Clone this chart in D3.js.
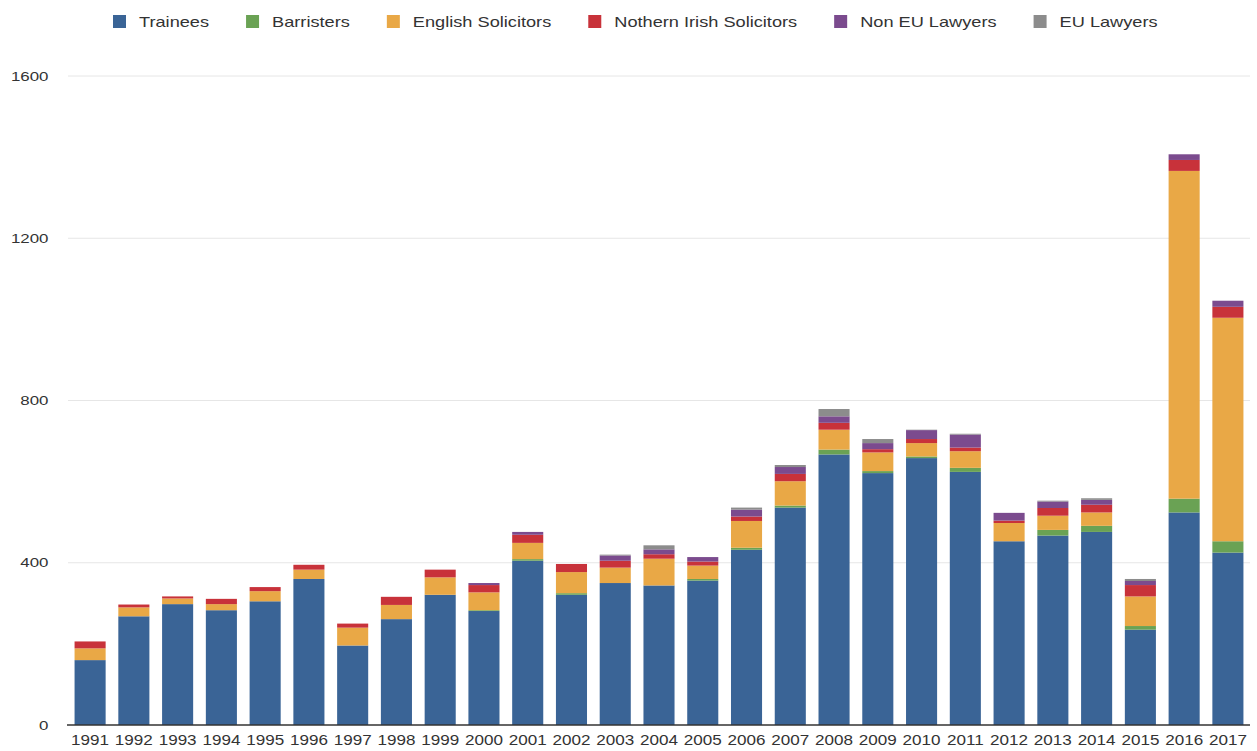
<!DOCTYPE html>
<html>
<head>
<meta charset="utf-8">
<script src="https://cdn.jsdelivr.net/npm/d3@7"></script>
<style>
  body { margin: 0; background: #fff; }
  text { font-family: "Liberation Sans", Arial, sans-serif; fill: #333; }
</style>
</head>
<body>
<div id="chart"></div>
<script>
const years = ['1991','1992','1993','1994','1995','1996','1997','1998','1999','2000','2001','2002','2003','2004','2005','2006','2007','2008','2009','2010','2011','2012','2013','2014','2015','2016','2017'];

const trainees = [160,268,298,283,305,360,196,261,321,281,405,321,350,344,356,432,536,667,621,658,624,453,467,476,235,524,425];
const barristers = [0,0,0,0,0,0,0,0,0,2,4,4,0,0,4,5,5,12,5,4,10,0,14,15,9,34,28];
const englishSolicitors = [29,22,14,15,25,23,44,35,43,44,40,52,38,66,33,66,60,49,46,33,41,45,35,33,73,808,551];
const nIrishSolicitors = [17,7,5,13,10,12,10,20,19,18,20,20,17,11,10,11,18,17,8,10,9,6,19,19,28,27,27];
const nonEuLawyers = [0,0,0,0,0,0,0,0,0,5,7,0,13,12,11,17,17,16,15,22,32,19,16,12,10,14,15];
const euLawyers = [0,0,0,0,0,0,0,0,0,0,0,0,2,10,0,5,5,18,10,1,2,0,2,4,5,0,0];

const seriesNames = ['Trainees', 'Barristers', 'English Solicitors', 'Nothern Irish Solicitors', 'Non EU Lawyers', 'EU Lawyers'];
const seriesValues = [trainees, barristers, englishSolicitors, nIrishSolicitors, nonEuLawyers, euLawyers];
const colors = ['#3a6496', '#6aa254', '#e9a846', '#c8323a', '#7b4b8e', '#8c8c8c'];
const yTicks = [0, 400, 800, 1200, 1600];

const w = 1257;
const h = 751;
const margin = { top: 76, right: 7, bottom: 26, left: 68 };

// table for d3.stack
const table = years.map((y, i) => {
  const row = { year: y };
  seriesNames.forEach((s, j) => { row[s] = seriesValues[j][i]; });
  return row;
});

const stacked = d3.stack().keys(seriesNames)(table);

const x = d3.scaleBand()
  .domain(years)
  .range([margin.left, w - margin.right])
  .paddingInner(0.29)
  .paddingOuter(0.15);

const y = d3.scaleLinear()
  .domain([0, 1600])
  .range([h - margin.bottom, margin.top]);

const color = d3.scaleOrdinal().domain(seriesNames).range(colors);

const svg = d3.select('#chart')
  .append('svg')
  .attr('width', w)
  .attr('height', h);

// grid
svg.append('g')
  .selectAll('line')
  .data(yTicks.slice(1))
  .enter()
  .append('line')
  .attr('x1', margin.left)
  .attr('x2', w - margin.right)
  .attr('y1', d => y(d))
  .attr('y2', d => y(d))
  .attr('stroke', '#e6e6e6')
  .attr('stroke-width', 1);

// y axis labels (text is a bit stretched sideways in the original)
const yAxis = svg.append('g')
  .attr('transform', 'translate(' + margin.left + ',0)')
  .call(d3.axisLeft(y).tickValues(yTicks).tickFormat(d3.format('d')).tickSize(0).tickPadding(15));
yAxis.select('.domain').remove();
yAxis.selectAll('text')
  .attr('font-size', 13)
  .attr('font-family', '"Liberation Sans", Arial, sans-serif')
  .attr('fill', '#333')
  .attr('transform', 'scale(1.3,1)');

// bars
const layer = svg.append('g')
  .selectAll('g')
  .data(stacked)
  .enter()
  .append('g')
  .attr('fill', d => color(d.key));

layer.selectAll('rect')
  .data(d => d)
  .enter()
  .append('rect')
  .attr('x', d => x(d.data.year))
  .attr('width', x.bandwidth())
  .attr('y', d => y(d[1]))
  .attr('height', d => Math.max(0, y(d[0]) - y(d[1])));

// x axis
const xAxis = svg.append('g')
  .attr('transform', 'translate(0,' + (h - margin.bottom) + ')')
  .call(d3.axisBottom(x).tickSize(0).tickPadding(10));
xAxis.select('.domain')
  .attr('stroke', '#333')
  .attr('stroke-width', 1.5)
  .attr('d', 'M' + (margin.left - 1) + ',0H' + (w - margin.right));
xAxis.selectAll('text')
  .attr('font-size', 14)
  .attr('font-family', '"Liberation Sans", Arial, sans-serif')
  .attr('fill', '#333')
  .attr('transform', 'scale(1.22,1)');

// legend
const legend = svg.append('g').attr('transform', 'translate(0,15)');
let lx = 113;
seriesNames.forEach((name, i) => {
  const item = legend.append('g').attr('transform', 'translate(' + lx + ',0)');
  item.append('rect')
    .attr('width', 13)
    .attr('height', 13)
    .attr('fill', colors[i]);
  const t = item.append('text')
    .attr('x', 26 / 1.3)
    .attr('y', 12)
    .attr('font-size', 14)
    .attr('transform', 'scale(1.3,1)')
    .text(name);
  lx += 26 + t.node().getComputedTextLength() * 1.3 + 37;
});
</script>
</body>
</html>
